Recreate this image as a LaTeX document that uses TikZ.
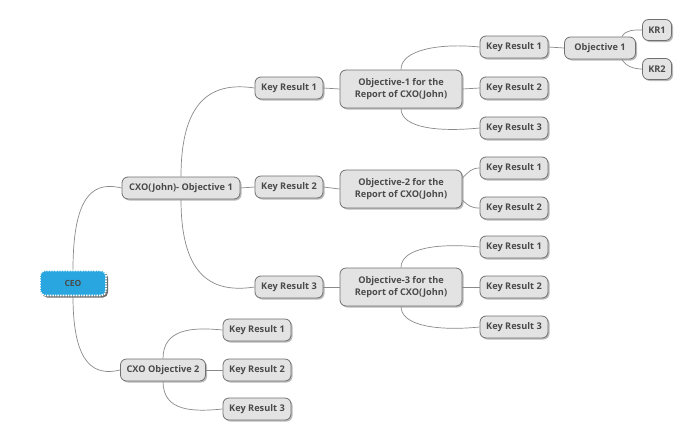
\documentclass[tikz,border=0pt]{standalone}
\usepackage{fontspec}
\setmainfont{Open Sans}
\usetikzlibrary{shadows}
\definecolor{nodefill}{HTML}{E3E3E3}
\definecolor{nodedraw}{HTML}{707070}
\definecolor{txt}{HTML}{4A4A4A}
\definecolor{ceoblue}{HTML}{29A6DF}
\definecolor{edgecol}{HTML}{8A8A8A}
\begin{document}
\begin{tikzpicture}[x=1pt,y=-1pt,
  box/.style={draw=nodedraw, fill=nodefill, rounded corners=6pt, line width=0.8pt,
    text=txt, font=\fontsize{9.2}{12}\selectfont\bfseries, inner sep=1pt,
    minimum height=22pt, align=center,
    drop shadow={shadow xshift=1.5pt, shadow yshift=-1.5pt, fill=black!45, opacity=0.6}},
  kr/.style={box, minimum width=68pt},
  obj/.style={box, minimum width=122pt, minimum height=38pt},
  small/.style={box, minimum width=29pt, minimum height=21pt},
  ceobox/.style={draw=white, densely dotted, line width=1.6pt, fill=ceoblue,
    rounded corners=5pt, minimum width=66pt, minimum height=25pt,
    text=txt, font=\fontsize{8.5}{10}\selectfont\bfseries,
    drop shadow={shadow xshift=2pt, shadow yshift=-2pt, fill=black!70, opacity=0.8}},
  link/.style={draw=edgecol, line width=0.7pt}
]
\useasboundingbox[fill=white] (0,0) rectangle (680,440);

\node[ceobox] (ceo) at (73,283) {CEO};
\node[box, minimum width=118pt] (cxo1) at (181,188) {CXO(John)- Objective 1};
\node[box, minimum width=85pt] (cxo2) at (163,370) {CXO Objective 2};

\node[kr] (k1) at (289,88) {Key Result 1};
\node[kr] (k2) at (289,187) {Key Result 2};
\node[kr] (k3) at (289,287) {Key Result 3};

\node[obj] (ob1) at (401,89) {Objective-1 for the\\Report of CXO(John)};
\node[obj] (ob2) at (401,189) {Objective-2 for the\\Report of CXO(John)};
\node[obj] (ob3) at (401,287) {Objective-3 for the\\Report of CXO(John)};

\node[kr] (a1) at (514,47) {Key Result 1};
\node[kr] (a2) at (514,88) {Key Result 2};
\node[kr] (a3) at (514,128) {Key Result 3};
\node[kr] (b1) at (514,168) {Key Result 1};
\node[kr] (b2) at (514,208) {Key Result 2};
\node[kr] (c1) at (514,247) {Key Result 1};
\node[kr] (c2) at (514,287) {Key Result 2};
\node[kr] (c3) at (514,327) {Key Result 3};

\node[box, minimum width=71pt] (sub) at (600,48) {Objective 1};
\node[small] (s1) at (657,30) {KR1};
\node[small] (s2) at (657,69) {KR2};

\node[kr] (d1) at (257,330) {Key Result 1};
\node[kr] (d2) at (257,370) {Key Result 2};
\node[kr] (d3) at (257,409) {Key Result 3};

% connectors
\path[link] (ceo.north) .. controls +(0,-80) and +(-25,-6) .. (cxo1.west);
\path[link] (ceo.south) .. controls +(0,70) and +(-25,6) .. (cxo2.west);

\path[link] (cxo1.north) .. controls +(0,-80) and +(-40,-6) .. (k1.west);
\path[link] (cxo1.east) -- (k2.west);
\path[link] (cxo1.south) .. controls +(0,80) and +(-40,6) .. (k3.west);

\path[link] (k1.east) -- (ob1.west);
\path[link] (k2.east) -- (ob2.west);
\path[link] (k3.east) -- (ob3.west);

\path[link] (ob1.north) .. controls +(0,-20) and +(-40,-4) .. (a1.west);
\path[link] (ob1.east) -- (a2.west);
\path[link] (ob1.south) .. controls +(0,20) and +(-40,4) .. (a3.west);

\path[link] ([yshift=11pt]ob2.east) .. controls +(6,-6) and +(-8,0) .. (b1.west);
\path[link] ([yshift=-11pt]ob2.east) .. controls +(6,6) and +(-8,0) .. (b2.west);

\path[link] (ob3.north) .. controls +(0,-20) and +(-40,-4) .. (c1.west);
\path[link] (ob3.east) -- (c2.west);
\path[link] (ob3.south) .. controls +(0,20) and +(-40,4) .. (c3.west);

\path[link] (a1.east) -- (sub.west);
\path[link] ([xshift=-14pt]sub.north east) .. controls +(4,-7) and +(-8,0) .. (s1.west);
\path[link] ([xshift=-14pt]sub.south east) .. controls +(4,7) and +(-8,0) .. (s2.west);

\path[link] (cxo2.north) .. controls +(0,-30) and +(-30,-3) .. (d1.west);
\path[link] (cxo2.east) -- (d2.west);
\path[link] (cxo2.south) .. controls +(0,30) and +(-30,3) .. (d3.west);
\end{tikzpicture}
\end{document}
